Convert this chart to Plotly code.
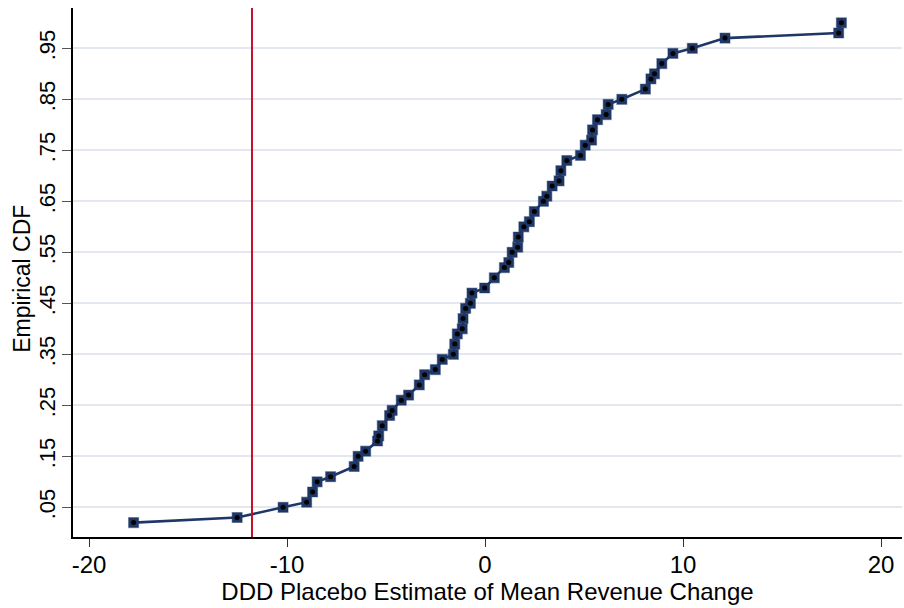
import plotly.graph_objects as go

# Placebo DDD estimates (sorted) and their empirical CDF values
estimates = [-17.75, -12.52, -10.20, -9.01, -8.71, -8.48, -7.80, -6.61, -6.41, -6.03,
             -5.43, -5.37, -5.19, -4.82, -4.69, -4.23, -3.86, -3.32, -3.05, -2.51,
             -2.16, -1.60, -1.53, -1.40, -1.15, -1.11, -0.98, -0.74, -0.66, -0.02,
             0.47, 0.98, 1.20, 1.37, 1.65, 1.68, 1.96, 2.24, 2.49, 2.95,
             3.12, 3.39, 3.74, 3.83, 4.13, 4.82, 5.06, 5.38, 5.43, 5.68,
             6.12, 6.22, 6.91, 8.10, 8.38, 8.56, 8.93, 9.49, 10.47, 12.12,
             17.86, 18.00]
ecdf = [0.02, 0.03, 0.05, 0.06, 0.08, 0.10, 0.11, 0.13, 0.15, 0.16,
        0.18, 0.19, 0.21, 0.23, 0.24, 0.26, 0.27, 0.29, 0.31, 0.32,
        0.34, 0.35, 0.37, 0.39, 0.40, 0.42, 0.44, 0.45, 0.47, 0.48,
        0.50, 0.52, 0.53, 0.55, 0.56, 0.58, 0.60, 0.61, 0.63, 0.65,
        0.66, 0.68, 0.69, 0.71, 0.73, 0.74, 0.76, 0.77, 0.79, 0.81,
        0.82, 0.84, 0.85, 0.87, 0.89, 0.90, 0.92, 0.94, 0.95, 0.97,
        0.98, 1.00]

# Actual estimate marked by the vertical reference line
actual_estimate = -11.77

x_ticks = [-20, -10, 0, 10, 20]
x_ticklabels = ["-20", "-10", "0", "10", "20"]
y_ticks = [0.05, 0.15, 0.25, 0.35, 0.45, 0.55, 0.65, 0.75, 0.85, 0.95]
y_ticklabels = [".05", ".15", ".25", ".35", ".45", ".55", ".65", ".75", ".85", ".95"]

navy = "#1e3766"
font = "Liberation Sans, Arial, sans-serif"

fig = go.Figure()
fig.add_trace(go.Scatter(
    x=estimates, y=ecdf, mode="lines+markers",
    line=dict(color=navy, width=2.6),
    marker=dict(symbol="square", size=10, color=navy,
                line=dict(color="rgba(30,55,102,0.4)", width=1.2)),
    hoverinfo="x+y", showlegend=False,
))
fig.add_trace(go.Scatter(
    x=estimates, y=ecdf, mode="markers",
    marker=dict(symbol="circle", size=5, color="black"),
    hoverinfo="skip", showlegend=False,
))

fig.add_shape(type="line", xref="x", yref="paper",
              x0=actual_estimate, x1=actual_estimate, y0=0, y1=1,
              line=dict(color="#c8102e", width=2))

# y-axis title placed as rotated text left of the tick labels
fig.add_annotation(text="Empirical CDF", textangle=-90,
                   xref="paper", yref="paper", x=-0.0615, y=0.488,
                   xanchor="center", yanchor="middle", showarrow=False,
                   font=dict(family=font, size=23, color="black"))

fig.update_layout(
    width=904, height=608,
    margin=dict(l=73, r=2, t=8, b=71),
    paper_bgcolor="white", plot_bgcolor="white",
    font=dict(family=font, size=24, color="black"),
    xaxis=dict(
        range=[-20.81, 21.06], tickvals=x_ticks, ticktext=x_ticklabels,
        ticks="outside", ticklen=8, tickwidth=1.2, tickcolor="#333333",
        ticklabelstandoff=-3,
        showgrid=False, zeroline=False,
        showline=True, linecolor="black", linewidth=1.5,
        tickfont=dict(size=24),
        title=dict(text="DDD Placebo Estimate of Mean Revenue Change",
                   font=dict(size=24), standoff=0),
    ),
    yaxis=dict(
        range=[-0.0082, 1.029], tickvals=y_ticks, ticktext=y_ticklabels,
        tickangle=-90,
        ticks="outside", ticklen=9, tickwidth=1.2, tickcolor="#555555",
        ticklabelstandoff=-2,
        showgrid=True, gridcolor="#e3e7f0", gridwidth=2,
        zeroline=False,
        showline=True, linecolor="black", linewidth=1.5,
        tickfont=dict(size=22),
    ),
)

fig.write_html("out.html")
